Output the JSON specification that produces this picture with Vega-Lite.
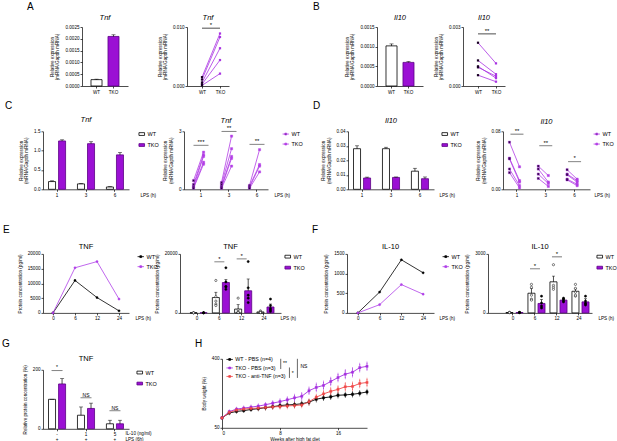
{
"$schema": "https://vega.github.io/schema/vega-lite/v6.json",
"padding": {"left": 0, "top": 2, "right": 0, "bottom": 0},
"background": "white",
"config": {
 "font": "Liberation Sans",
 "view": {"stroke": null},
 "axis": {"domainColor":"#000","domainWidth":0.7,"tickColor":"#000","tickWidth":0.7,"tickSize":2,"labelFontSize":4.6,"labelColor":"#000","labelPadding":1,"titleFontSize":4.6,"titleFontWeight":"normal","titleColor":"#000","titleLineHeight":5.5,"grid":false,"labelFont":"Liberation Sans","titleFont":"Liberation Sans","labelOverlap":false},
 "axisX": {"labelAngle": 0},
 "axisY": {"titlePadding": 5},
 "title": {"fontSize": 7.5, "fontWeight": "normal", "font": "Liberation Sans", "baseline": "alphabetic", "offset": 5, "frame": "group", "anchor": "middle", "color": "#000"},
 "legend": {"labelFontSize": 5.5, "labelFont": "Liberation Sans", "padding": 0, "rowPadding": 3, "symbolStrokeWidth": 0.8, "labelOffset": 3, "labelColor": "#000"}
},
"datasets": {
 "a1": [{"g":"WT","m":0.00027,"hi":0.00029},{"g":"TKO","m":0.0021,"hi":0.00217}],
 "a2": [{"id":1,"g":"WT","v":0.0015},{"id":1,"g":"TKO","v":0.0089},{"id":2,"g":"WT","v":0.0011},{"id":2,"g":"TKO","v":0.0083},{"id":3,"g":"WT","v":0.0006},{"id":3,"g":"TKO","v":0.0064},{"id":4,"g":"WT","v":0.0003},{"id":4,"g":"TKO","v":0.0044},{"id":5,"g":"WT","v":0.0001},{"id":5,"g":"TKO","v":0.0021}],
 "a2s": [{"a":"WT","b":"TKO","y":0.0098,"s":"*"}],
 "b1": [{"g":"WT","m":0.00102,"hi":0.00107},{"g":"TKO","m":0.0006,"hi":0.00062}],
 "b2": [{"id":1,"g":"WT","v":0.0022},{"id":1,"g":"TKO","v":0.00115},{"id":2,"g":"WT","v":0.0013},{"id":2,"g":"TKO","v":0.0006},{"id":3,"g":"WT","v":0.001},{"id":3,"g":"TKO","v":0.0004},{"id":4,"g":"WT","v":0.00095},{"id":4,"g":"TKO","v":0.0005},{"id":5,"g":"WT","v":0.00055},{"id":5,"g":"TKO","v":0.00022}],
 "b2s": [{"a":"WT","b":"TKO","y":0.00265,"s":"**"}],
 "c1": [{"t":"1","g":"WT","m":0.2,"hi":0.22},{"t":"1","g":"TKO","m":1.25,"hi":1.28},{"t":"3","g":"WT","m":0.14,"hi":0.15},{"t":"3","g":"TKO","m":1.18,"hi":1.23},{"t":"6","g":"WT","m":0.06,"hi":0.07},{"t":"6","g":"TKO","m":0.89,"hi":0.95}],
 "c2": [{"t":"1","g":"WT","v":0.45,"id":"a1"},{"t":"1","g":"TKO","v":1.92,"id":"a1"},{"t":"1","g":"WT","v":0.25,"id":"a2"},{"t":"1","g":"TKO","v":1.78,"id":"a2"},{"t":"1","g":"WT","v":0.15,"id":"a3"},{"t":"1","g":"TKO","v":1.7,"id":"a3"},{"t":"1","g":"WT","v":0.1,"id":"a4"},{"t":"1","g":"TKO","v":1.4,"id":"a4"},{"t":"1","g":"WT","v":0.05,"id":"a5"},{"t":"1","g":"TKO","v":1.3,"id":"a5"},
  {"t":"3","g":"WT","v":0.35,"id":"b1"},{"t":"3","g":"TKO","v":2.75,"id":"b1"},{"t":"3","g":"WT","v":0.25,"id":"b2"},{"t":"3","g":"TKO","v":2.1,"id":"b2"},{"t":"3","g":"WT","v":0.15,"id":"b3"},{"t":"3","g":"TKO","v":1.7,"id":"b3"},{"t":"3","g":"WT","v":0.1,"id":"b4"},{"t":"3","g":"TKO","v":1.6,"id":"b4"},{"t":"3","g":"WT","v":0.05,"id":"b5"},{"t":"3","g":"TKO","v":1.2,"id":"b5"},
  {"t":"6","g":"WT","v":0.2,"id":"c1"},{"t":"6","g":"TKO","v":2.05,"id":"c1"},{"t":"6","g":"WT","v":0.15,"id":"c2"},{"t":"6","g":"TKO","v":1.28,"id":"c2"},{"t":"6","g":"WT","v":0.1,"id":"c3"},{"t":"6","g":"TKO","v":1.2,"id":"c3"},{"t":"6","g":"WT","v":0.05,"id":"c4"},{"t":"6","g":"TKO","v":0.9,"id":"c4"}],
 "c2s": [{"t":"1","y":2.28,"s":"***"},{"t":"3","y":3.0,"s":"**"},{"t":"6","y":2.33,"s":"**"}],
 "d1": [{"t":"1","g":"WT","m":0.028,"hi":0.030},{"t":"1","g":"TKO","m":0.0078,"hi":0.0084},{"t":"3","g":"WT","m":0.028,"hi":0.029},{"t":"3","g":"TKO","m":0.0082,"hi":0.0085},{"t":"6","g":"WT","m":0.0125,"hi":0.0145},{"t":"6","g":"TKO","m":0.0073,"hi":0.0085}],
 "d2": [{"t":"1","g":"WT","v":0.065,"id":"a1"},{"t":"1","g":"TKO","v":0.031,"id":"a1"},{"t":"1","g":"WT","v":0.043,"id":"a2"},{"t":"1","g":"TKO","v":0.012,"id":"a2"},{"t":"1","g":"WT","v":0.042,"id":"a3"},{"t":"1","g":"TKO","v":0.01,"id":"a3"},{"t":"1","g":"WT","v":0.028,"id":"a4"},{"t":"1","g":"TKO","v":0.005,"id":"a4"},{"t":"1","g":"WT","v":0.023,"id":"a5"},{"t":"1","g":"TKO","v":0.002,"id":"a5"},
  {"t":"3","g":"WT","v":0.032,"id":"b1"},{"t":"3","g":"TKO","v":0.019,"id":"b1"},{"t":"3","g":"WT","v":0.028,"id":"b2"},{"t":"3","g":"TKO","v":0.01,"id":"b2"},{"t":"3","g":"WT","v":0.021,"id":"b3"},{"t":"3","g":"TKO","v":0.008,"id":"b3"},{"t":"3","g":"WT","v":0.015,"id":"b4"},{"t":"3","g":"TKO","v":0.004,"id":"b4"},
  {"t":"6","g":"WT","v":0.027,"id":"c1"},{"t":"6","g":"TKO","v":0.014,"id":"c1"},{"t":"6","g":"WT","v":0.021,"id":"c2"},{"t":"6","g":"TKO","v":0.012,"id":"c2"},{"t":"6","g":"WT","v":0.02,"id":"c3"},{"t":"6","g":"TKO","v":0.01,"id":"c3"},{"t":"6","g":"WT","v":0.014,"id":"c4"},{"t":"6","g":"TKO","v":0.007,"id":"c4"},{"t":"6","g":"WT","v":0.013,"id":"c5"},{"t":"6","g":"TKO","v":0.005,"id":"c5"}],
 "d2s": [{"t":"1","y":0.076,"s":"**"},{"t":"3","y":0.06,"s":"**"},{"t":"6","y":0.038,"s":"*"}],
 "e1": [{"t":0,"g":"WT","v":0},{"t":6,"g":"WT","v":11000},{"t":12,"g":"WT","v":5200},{"t":24,"g":"WT","v":700},{"t":0,"g":"TKO","v":0},{"t":6,"g":"TKO","v":15300},{"t":12,"g":"TKO","v":17400},{"t":24,"g":"TKO","v":4700}],
 "e2s": [{"t":0,"g":"WT","m":50,"hi":80},{"t":0,"g":"TKO","m":50,"hi":80},{"t":6,"g":"WT","m":5200,"hi":7000},{"t":6,"g":"TKO","m":10300,"hi":11300},{"t":12,"g":"WT","m":1300,"hi":2800},{"t":12,"g":"TKO","m":7500,"hi":11500},{"t":24,"g":"WT","m":330,"hi":550},{"t":24,"g":"TKO","m":2000,"hi":3000}],
 "e2d": [{"t":0,"g":"WT","v":60},{"t":0,"g":"WT","v":40},{"t":0,"g":"WT","v":30},{"t":0,"g":"TKO","v":60},{"t":0,"g":"TKO","v":40},{"t":0,"g":"TKO","v":30},
  {"t":6,"g":"WT","v":11000},{"t":6,"g":"WT","v":5500},{"t":6,"g":"WT","v":4000},{"t":6,"g":"WT","v":3000},{"t":6,"g":"WT","v":2500},
  {"t":6,"g":"TKO","v":15300},{"t":6,"g":"TKO","v":10500},{"t":6,"g":"TKO","v":9000},{"t":6,"g":"TKO","v":8000},{"t":6,"g":"TKO","v":8800},
  {"t":12,"g":"WT","v":5000},{"t":12,"g":"WT","v":1000},{"t":12,"g":"WT","v":300},{"t":12,"g":"WT","v":200},{"t":12,"g":"WT","v":100},
  {"t":12,"g":"TKO","v":17400},{"t":12,"g":"TKO","v":8500},{"t":12,"g":"TKO","v":6000},{"t":12,"g":"TKO","v":5000},{"t":12,"g":"TKO","v":3500},
  {"t":24,"g":"WT","v":700},{"t":24,"g":"WT","v":300},{"t":24,"g":"WT","v":200},{"t":24,"g":"WT","v":100},
  {"t":24,"g":"TKO","v":4700},{"t":24,"g":"TKO","v":2500},{"t":24,"g":"TKO","v":1500},{"t":24,"g":"TKO","v":1000},{"t":24,"g":"TKO","v":500}],
 "e2x": [{"t":6,"y":17300,"s":"*"},{"t":12,"y":18300,"s":"*"}],
 "f1": [{"t":0,"g":"WT","v":0},{"t":6,"g":"WT","v":530},{"t":12,"g":"WT","v":1350},{"t":24,"g":"WT","v":1020},{"t":0,"g":"TKO","v":0},{"t":6,"g":"TKO","v":210},{"t":12,"g":"TKO","v":720},{"t":24,"g":"TKO","v":475}],
 "f2s": [{"t":0,"g":"WT","m":20,"hi":40},{"t":0,"g":"TKO","m":20,"hi":40},{"t":6,"g":"WT","m":1000,"hi":1250},{"t":6,"g":"TKO","m":480,"hi":680},{"t":12,"g":"WT","m":1580,"hi":1870},{"t":12,"g":"TKO","m":650,"hi":700},{"t":24,"g":"WT","m":1100,"hi":1220},{"t":24,"g":"TKO","m":560,"hi":720}],
 "f2d": [{"t":0,"g":"WT","v":20},{"t":0,"g":"WT","v":25},{"t":0,"g":"WT","v":15},{"t":0,"g":"TKO","v":20},{"t":0,"g":"TKO","v":25},{"t":0,"g":"TKO","v":15},
  {"t":6,"g":"WT","v":1450},{"t":6,"g":"WT","v":1300},{"t":6,"g":"WT","v":900},{"t":6,"g":"WT","v":700},{"t":6,"g":"WT","v":650},
  {"t":6,"g":"TKO","v":850},{"t":6,"g":"TKO","v":500},{"t":6,"g":"TKO","v":350},{"t":6,"g":"TKO","v":250},
  {"t":12,"g":"WT","v":2450},{"t":12,"g":"WT","v":1400},{"t":12,"g":"WT","v":1300},{"t":12,"g":"WT","v":1200},
  {"t":12,"g":"TKO","v":750},{"t":12,"g":"TKO","v":700},{"t":12,"g":"TKO","v":620},{"t":12,"g":"TKO","v":560},
  {"t":24,"g":"WT","v":1450},{"t":24,"g":"WT","v":1250},{"t":24,"g":"WT","v":1050},{"t":24,"g":"WT","v":850},{"t":24,"g":"WT","v":900},
  {"t":24,"g":"TKO","v":850},{"t":24,"g":"TKO","v":600},{"t":24,"g":"TKO","v":450},{"t":24,"g":"TKO","v":400},{"t":24,"g":"TKO","v":500}],
 "f2x": [{"t":6,"y":2240,"s":"*"},{"t":12,"y":2850,"s":"*"}],
 "g": [{"t":"-","g":"WT","m":100,"hi":100},{"t":"-","g":"TKO","m":152,"hi":170},{"t":"1","g":"WT","m":46,"hi":74},{"t":"1","g":"TKO","m":69,"hi":87},{"t":"5","g":"WT","m":17,"hi":29},{"t":"5","g":"TKO","m":17,"hi":29}],
 "gx": [{"t":"-","y":197,"s":"*"},{"t":"1","y":105,"s":"NS"},{"t":"5","y":61,"s":"NS"}],
 "h": [
  {"w":0,"k":"WT - PBS (n=4)","m":100,"lo":98,"hi":102},{"w":1,"k":"WT - PBS (n=4)","m":125,"lo":120,"hi":130},{"w":2,"k":"WT - PBS (n=4)","m":133,"lo":127,"hi":139},{"w":3,"k":"WT - PBS (n=4)","m":137,"lo":131,"hi":143},{"w":4,"k":"WT - PBS (n=4)","m":143,"lo":136,"hi":150},{"w":5,"k":"WT - PBS (n=4)","m":147,"lo":140,"hi":154},{"w":6,"k":"WT - PBS (n=4)","m":152,"lo":144,"hi":160},{"w":7,"k":"WT - PBS (n=4)","m":157,"lo":149,"hi":165},{"w":8,"k":"WT - PBS (n=4)","m":163,"lo":154,"hi":172},{"w":9,"k":"WT - PBS (n=4)","m":166,"lo":157,"hi":175},{"w":10,"k":"WT - PBS (n=4)","m":168,"lo":158,"hi":178},{"w":11,"k":"WT - PBS (n=4)","m":172,"lo":162,"hi":182},{"w":12,"k":"WT - PBS (n=4)","m":180,"lo":170,"hi":190},{"w":13,"k":"WT - PBS (n=4)","m":195,"lo":185,"hi":205},{"w":14,"k":"WT - PBS (n=4)","m":202,"lo":192,"hi":212},{"w":15,"k":"WT - PBS (n=4)","m":207,"lo":197,"hi":217},{"w":16,"k":"WT - PBS (n=4)","m":215,"lo":205,"hi":225},{"w":17,"k":"WT - PBS (n=4)","m":217,"lo":207,"hi":227},{"w":18,"k":"WT - PBS (n=4)","m":220,"lo":210,"hi":230},{"w":19,"k":"WT - PBS (n=4)","m":225,"lo":215,"hi":235},{"w":20,"k":"WT - PBS (n=4)","m":232,"lo":222,"hi":242},
  {"w":0,"k":"TKO - PBS (n=3)","m":100,"lo":98,"hi":102},{"w":1,"k":"TKO - PBS (n=3)","m":132,"lo":126,"hi":138},{"w":2,"k":"TKO - PBS (n=3)","m":145,"lo":139,"hi":151},{"w":3,"k":"TKO - PBS (n=3)","m":150,"lo":143,"hi":157},{"w":4,"k":"TKO - PBS (n=3)","m":155,"lo":148,"hi":162},{"w":5,"k":"TKO - PBS (n=3)","m":160,"lo":152,"hi":168},{"w":6,"k":"TKO - PBS (n=3)","m":167,"lo":159,"hi":175},{"w":7,"k":"TKO - PBS (n=3)","m":175,"lo":166,"hi":184},{"w":8,"k":"TKO - PBS (n=3)","m":183,"lo":173,"hi":193},{"w":9,"k":"TKO - PBS (n=3)","m":192,"lo":180,"hi":204},{"w":10,"k":"TKO - PBS (n=3)","m":202,"lo":188,"hi":216},{"w":11,"k":"TKO - PBS (n=3)","m":210,"lo":195,"hi":225},{"w":12,"k":"TKO - PBS (n=3)","m":238,"lo":223,"hi":253},{"w":13,"k":"TKO - PBS (n=3)","m":255,"lo":237,"hi":273},{"w":14,"k":"TKO - PBS (n=3)","m":265,"lo":247,"hi":283},{"w":15,"k":"TKO - PBS (n=3)","m":285,"lo":267,"hi":303},{"w":16,"k":"TKO - PBS (n=3)","m":305,"lo":287,"hi":323},{"w":17,"k":"TKO - PBS (n=3)","m":322,"lo":302,"hi":342},{"w":18,"k":"TKO - PBS (n=3)","m":332,"lo":312,"hi":352},{"w":19,"k":"TKO - PBS (n=3)","m":355,"lo":337,"hi":373},{"w":20,"k":"TKO - PBS (n=3)","m":362,"lo":344,"hi":380},
  {"w":0,"k":"TKO - anti-TNF (n=3)","m":100,"lo":98,"hi":102},{"w":1,"k":"TKO - anti-TNF (n=3)","m":128,"lo":123,"hi":133},{"w":2,"k":"TKO - anti-TNF (n=3)","m":140,"lo":134,"hi":146},{"w":3,"k":"TKO - anti-TNF (n=3)","m":145,"lo":139,"hi":151},{"w":4,"k":"TKO - anti-TNF (n=3)","m":148,"lo":141,"hi":155},{"w":5,"k":"TKO - anti-TNF (n=3)","m":150,"lo":143,"hi":157},{"w":6,"k":"TKO - anti-TNF (n=3)","m":153,"lo":145,"hi":161},{"w":7,"k":"TKO - anti-TNF (n=3)","m":156,"lo":148,"hi":164},{"w":8,"k":"TKO - anti-TNF (n=3)","m":158,"lo":149,"hi":167},{"w":9,"k":"TKO - anti-TNF (n=3)","m":161,"lo":151,"hi":171},{"w":10,"k":"TKO - anti-TNF (n=3)","m":163,"lo":153,"hi":173},{"w":11,"k":"TKO - anti-TNF (n=3)","m":166,"lo":156,"hi":176},{"w":12,"k":"TKO - anti-TNF (n=3)","m":182,"lo":170,"hi":194},{"w":13,"k":"TKO - anti-TNF (n=3)","m":205,"lo":193,"hi":217},{"w":14,"k":"TKO - anti-TNF (n=3)","m":222,"lo":208,"hi":236},{"w":15,"k":"TKO - anti-TNF (n=3)","m":235,"lo":220,"hi":250},{"w":16,"k":"TKO - anti-TNF (n=3)","m":245,"lo":230,"hi":260},{"w":17,"k":"TKO - anti-TNF (n=3)","m":258,"lo":240,"hi":276},{"w":18,"k":"TKO - anti-TNF (n=3)","m":260,"lo":242,"hi":278},{"w":19,"k":"TKO - anti-TNF (n=3)","m":275,"lo":257,"hi":293},{"w":20,"k":"TKO - anti-TNF (n=3)","m":280,"lo":262,"hi":298}],
 "hr": [{"x":8.1,"y":400,"y2":348},{"x":9.3,"y":356,"y2":303},{"x":10.4,"y":400,"y2":303}],
 "ht": [{"x":8.7,"y":380,"s":"**"},{"x":9.75,"y":330,"s":"*"},{"x":11.3,"y":365,"s":"NS"}],
 "one": [{"u": 1}]
},
"resolve": {"scale": {"fill": "independent", "stroke": "independent", "color": "independent"}},
"spacing": 27.9,
"vconcat": [
 {"spacing": 6.3, "resolve": {"scale": {"fill": "independent", "stroke": "independent", "color": "independent"}}, "vconcat": [
  {"bounds": "flush", "spacing": 0, "resolve": {"scale": {"fill": "independent", "stroke": "independent", "color": "independent"}}, "hconcat": [
   {"width": 82, "height": 10, "data": {"name": "one"}, "mark": {"type": "rect", "opacity": 0}, "title": {"text": "A", "fontSize": 10, "anchor": "start", "frame": "group", "baseline": "alphabetic", "dx": 27, "offset": 6.6}},
   {"width": 46, "height": 59, "title": {"text": "Tnf", "fontStyle": "italic", "offset": 3}, "data": {"name": "a1"},
    "encoding": {
     "x": {"field": "g", "type": "nominal", "scale": {"domain": ["WT","TKO"], "paddingInner": 0.35, "paddingOuter": 0.53}, "axis": {"title": null}},
     "y": {"field": "m", "type": "quantitative", "scale": {"domain": [0, 0.0025]}, "axis": {"values": [0,0.0005,0.001,0.0015,0.002,0.0025], "format": ".4f", "title": ["Relative expression","(mRNA/Gapdh mRNA)"]}}},
    "layer": [
     {"mark": {"type": "bar", "strokeWidth": 0.8}, "encoding": {
       "fill": {"field": "g", "type": "nominal", "scale": {"domain": ["WT","TKO"], "range": ["#ffffff","#9b10d4"]}, "legend": null},
       "stroke": {"field": "g", "type": "nominal", "scale": {"domain": ["WT","TKO"], "range": ["#000000","#5c0085"]}, "legend": null}}},
     {"mark": {"type": "rule", "color": "#000", "strokeWidth": 0.7}, "encoding": {"y2": {"field": "hi"}}},
     {"mark": {"type": "tick", "color": "#000", "thickness": 0.7, "size": 4}, "encoding": {"y": {"field": "hi", "type": "quantitative"}}}
    ]},
   {"width": 59, "height": 10, "data": {"name": "one"}, "mark": {"type": "rect", "opacity": 0}},
   {"width": 42, "height": 59, "title": {"text": "Tnf", "fontStyle": "italic", "offset": 0},
    "layer": [
     {"data": {"name": "a2"}, "mark": {"type": "line", "color": "#a934e2", "strokeWidth": 0.8}, "encoding": {
       "x": {"field": "g", "type": "nominal", "scale": {"type": "point", "domain": ["WT","TKO"], "padding": 0.667, "align": 0.625}, "axis": {"title": null}},
       "y": {"field": "v", "type": "quantitative", "scale": {"domain": [0, 0.01]}, "axis": {"values": [0,0.002,0.004,0.006,0.008,0.01], "format": ".3f", "title": ["Relative expression","(mRNA/Gapdh mRNA)"]}},
       "detail": {"field": "id", "type": "nominal"}}},
     {"data": {"name": "a2"}, "mark": {"type": "point", "filled": true, "shape": "square", "size": 5, "opacity": 1}, "encoding": {
       "x": {"field": "g", "type": "nominal"}, "y": {"field": "v", "type": "quantitative"},
       "color": {"field": "g", "type": "nominal", "scale": {"domain": ["WT","TKO"], "range": ["#1a0026","#a934e2"]}, "legend": null}}},
     {"data": {"name": "a2s"}, "mark": {"type": "rule", "color": "#000", "strokeWidth": 0.7}, "encoding": {"x": {"field": "a", "type": "nominal"}, "x2": {"field": "b"}, "y": {"field": "y", "type": "quantitative"}}},
     {"data": {"name": "a2s"}, "mark": {"type": "text", "dx": 9, "dy": -0.3, "baseline": "bottom", "fontSize": 6}, "encoding": {"x": {"field": "a", "type": "nominal"}, "y": {"field": "y", "type": "quantitative"}, "text": {"field": "s"}}}
    ]},
   {"width": 148, "height": 10, "data": {"name": "one"}, "mark": {"type": "rect", "opacity": 0}, "title": {"text": "B", "fontSize": 10, "anchor": "start", "frame": "group", "baseline": "alphabetic", "dx": 84, "offset": 6.6}},
   {"width": 46, "height": 59, "title": {"text": "Il10", "fontStyle": "italic", "offset": 3}, "data": {"name": "b1"},
    "encoding": {
     "x": {"field": "g", "type": "nominal", "scale": {"domain": ["WT","TKO"], "paddingInner": 0.35, "paddingOuter": 0.53}, "axis": {"title": null}},
     "y": {"field": "m", "type": "quantitative", "scale": {"domain": [0, 0.0015]}, "axis": {"values": [0,0.0005,0.001,0.0015], "format": ".4f", "title": ["Relative expression","(mRNA/Gapdh mRNA)"]}}},
    "layer": [
     {"mark": {"type": "bar", "strokeWidth": 0.8}, "encoding": {
       "fill": {"field": "g", "type": "nominal", "scale": {"domain": ["WT","TKO"], "range": ["#ffffff","#9b10d4"]}, "legend": null},
       "stroke": {"field": "g", "type": "nominal", "scale": {"domain": ["WT","TKO"], "range": ["#000000","#5c0085"]}, "legend": null}}},
     {"mark": {"type": "rule", "color": "#000", "strokeWidth": 0.7}, "encoding": {"y2": {"field": "hi"}}},
     {"mark": {"type": "tick", "color": "#000", "thickness": 0.7, "size": 4}, "encoding": {"y": {"field": "hi", "type": "quantitative"}}}
    ]},
   {"width": 40, "height": 10, "data": {"name": "one"}, "mark": {"type": "rect", "opacity": 0}},
   {"width": 42, "height": 59, "title": {"text": "Il10", "fontStyle": "italic", "offset": 3},
    "layer": [
     {"data": {"name": "b2"}, "mark": {"type": "line", "color": "#a934e2", "strokeWidth": 0.8}, "encoding": {
       "x": {"field": "g", "type": "nominal", "scale": {"type": "point", "domain": ["WT","TKO"], "padding": 0.667, "align": 0.625}, "axis": {"title": null}},
       "y": {"field": "v", "type": "quantitative", "scale": {"domain": [0, 0.003]}, "axis": {"values": [0,0.001,0.002,0.003], "format": ".3f", "title": ["Relative expression","(mRNA/Gapdh mRNA)"]}},
       "detail": {"field": "id", "type": "nominal"}}},
     {"data": {"name": "b2"}, "mark": {"type": "point", "filled": true, "shape": "square", "size": 5, "opacity": 1}, "encoding": {
       "x": {"field": "g", "type": "nominal"}, "y": {"field": "v", "type": "quantitative"},
       "color": {"field": "g", "type": "nominal", "scale": {"domain": ["WT","TKO"], "range": ["#1a0026","#a934e2"]}, "legend": null}}},
     {"data": {"name": "b2s"}, "mark": {"type": "rule", "color": "#000", "strokeWidth": 0.7}, "encoding": {"x": {"field": "a", "type": "nominal"}, "x2": {"field": "b"}, "y": {"field": "y", "type": "quantitative"}}},
     {"data": {"name": "b2s"}, "mark": {"type": "text", "dx": 9, "dy": -0.3, "baseline": "bottom", "fontSize": 6}, "encoding": {"x": {"field": "a", "type": "nominal"}, "y": {"field": "y", "type": "quantitative"}, "text": {"field": "s"}}}
    ]}
  ]},
  {"bounds": "flush", "spacing": 0, "resolve": {"scale": {"fill": "independent", "stroke": "independent", "color": "independent"}}, "hconcat": [
   {"width": 43, "height": 10, "data": {"name": "one"}, "mark": {"type": "rect", "opacity": 0}, "title": {"text": "C", "fontSize": 10, "anchor": "start", "frame": "group", "baseline": "alphabetic", "dx": 5, "offset": 12.6}},
   {"width": 86, "height": 58, "title": {"text": "Tnf", "fontStyle": "italic", "offset": 5.2}, "data": {"name": "c1"},
    "encoding": {
     "x": {"field": "t", "type": "nominal", "scale": {"domain": ["1","3","6"], "paddingInner": 0.41, "paddingOuter": 0.19}, "axis": {"title": "LPS (h)", "titleX": 97, "titleY": 3, "titleAlign": "left", "titleBaseline": "top"}},
     "xOffset": {"field": "g", "type": "nominal", "scale": {"domain": ["WT","TKO"], "paddingInner": 0.3}},
     "y": {"field": "m", "type": "quantitative", "scale": {"domain": [0, 1.5]}, "axis": {"values": [0,0.5,1,1.5], "format": ".1f", "title": ["Relative expression","(mRNA/Gapdh mRNA)"]}}},
    "layer": [
     {"mark": {"type": "bar", "strokeWidth": 0.8}, "encoding": {
       "fill": {"field": "g", "type": "nominal", "scale": {"domain": ["WT","TKO"], "range": ["#ffffff","#9b10d4"]}, "legend": {"title": null, "symbolType": "M-1.4,-0.7H1.4V0.7H-1.4Z", "symbolSize": 16, "offset": 10}},
       "stroke": {"field": "g", "type": "nominal", "scale": {"domain": ["WT","TKO"], "range": ["#000000","#5c0085"]}, "legend": {"title": null, "symbolType": "M-1.4,-0.7H1.4V0.7H-1.4Z", "symbolSize": 16, "offset": 10}}}},
     {"mark": {"type": "rule", "color": "#000", "strokeWidth": 0.7}, "encoding": {"y2": {"field": "hi"}}},
     {"mark": {"type": "tick", "color": "#000", "thickness": 0.7, "size": 4}, "encoding": {"y": {"field": "hi", "type": "quantitative"}}}
    ]},
   {"width": 55, "height": 10, "data": {"name": "one"}, "mark": {"type": "rect", "opacity": 0}},
   {"width": 84, "height": 58, "title": {"text": "Tnf", "fontStyle": "italic", "offset": 1},
    "layer": [
     {"data": {"name": "c2"}, "mark": {"type": "line", "color": "#b23ee6", "strokeWidth": 0.8}, "encoding": {
       "x": {"field": "t", "type": "nominal", "scale": {"domain": ["1","3","6"], "paddingInner": 0.214, "paddingOuter": 0.107, "align": 1}, "axis": {"title": "LPS (h)", "titleX": 90, "titleY": 3, "titleAlign": "left", "titleBaseline": "top"}},
       "xOffset": {"field": "g", "type": "nominal", "scale": {"domain": ["WT","TKO"], "paddingInner": 0, "paddingOuter": 0}},
       "y": {"field": "v", "type": "quantitative", "scale": {"domain": [0, 3]}, "axis": {"values": [0,1,2,3], "format": "d", "title": ["Relative expression","(mRNA/Gapdh mRNA)"]}},
       "detail": {"field": "id", "type": "nominal"}}},
     {"data": {"name": "c2"}, "mark": {"type": "point", "filled": true, "shape": "square", "size": 5, "strokeWidth": 0.4, "opacity": 1}, "encoding": {
       "x": {"field": "t", "type": "nominal"}, "xOffset": {"field": "g", "type": "nominal"}, "y": {"field": "v", "type": "quantitative"},
       "fill": {"field": "g", "type": "nominal", "scale": {"domain": ["WT","TKO"], "range": ["#2a0040","#b23ee6"]}, "legend": {"title": null, "symbolType": "M-1.6,0H1.6M-0.45,-0.45H0.45V0.45H-0.45Z", "symbolSize": 16, "offset": 15}},
       "stroke": {"field": "g", "type": "nominal", "scale": {"domain": ["WT","TKO"], "range": ["#b23ee6","#b23ee6"]}, "legend": {"title": null, "symbolType": "M-1.6,0H1.6M-0.45,-0.45H0.45V0.45H-0.45Z", "symbolSize": 16, "offset": 15}}}},
     {"data": {"name": "c2s"}, "mark": {"type": "tick", "color": "#000", "thickness": 0.7, "size": 15}, "encoding": {"x": {"field": "t", "type": "nominal"}, "y": {"field": "y", "type": "quantitative"}}},
     {"data": {"name": "c2s"}, "mark": {"type": "text", "baseline": "bottom", "dy": -0.3, "fontSize": 6}, "encoding": {"x": {"field": "t", "type": "nominal"}, "y": {"field": "y", "type": "quantitative"}, "text": {"field": "s"}}}
    ]},
   {"width": 80, "height": 10, "data": {"name": "one"}, "mark": {"type": "rect", "opacity": 0}, "title": {"text": "D", "fontSize": 10, "anchor": "start", "frame": "group", "baseline": "alphabetic", "dx": 45, "offset": 12.6}},
   {"width": 86, "height": 58, "title": {"text": "Il10", "fontStyle": "italic", "offset": 4.2}, "data": {"name": "d1"},
    "encoding": {
     "x": {"field": "t", "type": "nominal", "scale": {"domain": ["1","3","6"], "paddingInner": 0.41, "paddingOuter": 0.19}, "axis": {"title": "LPS (h)", "titleX": 91, "titleY": 3, "titleAlign": "left", "titleBaseline": "top"}},
     "xOffset": {"field": "g", "type": "nominal", "scale": {"domain": ["WT","TKO"], "paddingInner": 0.3}},
     "y": {"field": "m", "type": "quantitative", "scale": {"domain": [0, 0.04]}, "axis": {"values": [0,0.01,0.02,0.03,0.04], "format": ".2f", "title": ["Relative expression","(mRNA/Gapdh mRNA)"]}}},
    "layer": [
     {"mark": {"type": "bar", "strokeWidth": 0.8}, "encoding": {
       "fill": {"field": "g", "type": "nominal", "scale": {"domain": ["WT","TKO"], "range": ["#ffffff","#9b10d4"]}, "legend": {"title": null, "symbolType": "M-1.4,-0.7H1.4V0.7H-1.4Z", "symbolSize": 16, "offset": 8}},
       "stroke": {"field": "g", "type": "nominal", "scale": {"domain": ["WT","TKO"], "range": ["#000000","#5c0085"]}, "legend": {"title": null, "symbolType": "M-1.4,-0.7H1.4V0.7H-1.4Z", "symbolSize": 16, "offset": 8}}}},
     {"mark": {"type": "rule", "color": "#000", "strokeWidth": 0.7}, "encoding": {"y2": {"field": "hi"}}},
     {"mark": {"type": "tick", "color": "#000", "thickness": 0.7, "size": 4}, "encoding": {"y": {"field": "hi", "type": "quantitative"}}}
    ]},
   {"width": 69, "height": 10, "data": {"name": "one"}, "mark": {"type": "rect", "opacity": 0}},
   {"width": 87, "height": 58, "title": {"text": "Il10", "fontStyle": "italic", "offset": 2.9},
    "layer": [
     {"data": {"name": "d2"}, "mark": {"type": "line", "color": "#b23ee6", "strokeWidth": 0.8}, "encoding": {
       "x": {"field": "t", "type": "nominal", "scale": {"domain": ["1","3","6"], "paddingInner": 0.236, "paddingOuter": 0.128, "align": 0.4}, "axis": {"title": "LPS (h)", "titleX": 91, "titleY": 3, "titleAlign": "left", "titleBaseline": "top"}},
       "xOffset": {"field": "g", "type": "nominal", "scale": {"domain": ["WT","TKO"], "paddingInner": 0, "paddingOuter": 0}},
       "y": {"field": "v", "type": "quantitative", "scale": {"domain": [0, 0.08]}, "axis": {"values": [0,0.02,0.04,0.06,0.08], "format": ".2f", "title": ["Relative expression","(mRNA/Gapdh mRNA)"]}},
       "detail": {"field": "id", "type": "nominal"}}},
     {"data": {"name": "d2"}, "mark": {"type": "point", "filled": true, "shape": "square", "size": 5, "strokeWidth": 0.4, "opacity": 1}, "encoding": {
       "x": {"field": "t", "type": "nominal"}, "xOffset": {"field": "g", "type": "nominal"}, "y": {"field": "v", "type": "quantitative"},
       "fill": {"field": "g", "type": "nominal", "scale": {"domain": ["WT","TKO"], "range": ["#2a0040","#b23ee6"]}, "legend": {"title": null, "symbolType": "M-1.6,0H1.6M-0.45,-0.45H0.45V0.45H-0.45Z", "symbolSize": 16, "offset": 4}},
       "stroke": {"field": "g", "type": "nominal", "scale": {"domain": ["WT","TKO"], "range": ["#b23ee6","#b23ee6"]}, "legend": {"title": null, "symbolType": "M-1.6,0H1.6M-0.45,-0.45H0.45V0.45H-0.45Z", "symbolSize": 16, "offset": 4}}}},
     {"data": {"name": "d2s"}, "mark": {"type": "tick", "color": "#000", "thickness": 0.7, "size": 13}, "encoding": {"x": {"field": "t", "type": "nominal"}, "y": {"field": "y", "type": "quantitative"}}},
     {"data": {"name": "d2s"}, "mark": {"type": "text", "baseline": "bottom", "dy": -0.3, "fontSize": 6}, "encoding": {"x": {"field": "t", "type": "nominal"}, "y": {"field": "y", "type": "quantitative"}, "text": {"field": "s"}}}
    ]}
  ]}
 ]},
 {"spacing": 17.9, "resolve": {"scale": {"fill": "independent", "stroke": "independent", "color": "independent"}}, "vconcat": [
  {"bounds": "flush", "spacing": 0, "resolve": {"scale": {"fill": "independent", "stroke": "independent", "color": "independent"}}, "hconcat": [
   {"width": 43, "height": 10, "data": {"name": "one"}, "mark": {"type": "rect", "opacity": 0}, "title": {"text": "E", "fontSize": 10, "anchor": "start", "frame": "group", "baseline": "alphabetic", "dx": 3, "offset": 10.6}},
   {"width": 86, "height": 59, "title": {"text": "TNF", "offset": 0.8}, "data": {"name": "e1"},
    "encoding": {
     "x": {"field": "t", "type": "ordinal", "scale": {"type": "point", "domain": [0,6,12,24], "padding": 0.4545}, "axis": {"title": "LPS (h)", "titleX": 92, "titleY": 3, "titleAlign": "left", "titleBaseline": "top"}},
     "y": {"field": "v", "type": "quantitative", "scale": {"domain": [0, 20000]}, "axis": {"values": [0,5000,10000,15000,20000], "format": "d", "title": "Protein concentration (pg/ml)"}}},
    "layer": [
     {"mark": {"type": "line", "strokeWidth": 0.8}, "encoding": {"stroke": {"field": "g", "type": "nominal", "scale": {"domain": ["WT","TKO"], "range": ["#000000","#b040e8"]}, "legend": {"title": null, "symbolType": "M-1.6,0H1.6M-0.45,-0.45H0.45V0.45H-0.45Z", "symbolSize": 16, "offset": 9}}}},
     {"mark": {"type": "point", "filled": true, "shape": "circle", "size": 5, "strokeWidth": 0.4, "opacity": 1}, "encoding": {
       "fill": {"field": "g", "type": "nominal", "scale": {"domain": ["WT","TKO"], "range": ["#000000","#b040e8"]}, "legend": {"title": null, "symbolType": "M-1.6,0H1.6M-0.45,-0.45H0.45V0.45H-0.45Z", "symbolSize": 16, "offset": 9}},
       "stroke": {"field": "g", "type": "nominal", "scale": {"domain": ["WT","TKO"], "range": ["#000000","#b040e8"]}, "legend": {"title": null, "symbolType": "M-1.6,0H1.6M-0.45,-0.45H0.45V0.45H-0.45Z", "symbolSize": 16, "offset": 9}}}}
    ]},
   {"width": 51, "height": 10, "data": {"name": "one"}, "mark": {"type": "rect", "opacity": 0}},
   {"width": 101, "height": 59, "title": {"text": "TNF", "offset": 0.8},
    "layer": [
     {"data": {"name": "e2s"}, "mark": {"type": "bar", "strokeWidth": 0.8}, "encoding": {
       "x": {"field": "t", "type": "ordinal", "scale": {"domain": [0,6,12,24], "paddingInner": 0.37, "paddingOuter": 0.45}, "axis": {"title": "LPS (h)", "titleX": 100, "titleY": 3, "titleAlign": "left", "titleBaseline": "top"}},
       "xOffset": {"field": "g", "type": "nominal", "scale": {"domain": ["WT","TKO"], "paddingInner": 0.35}},
       "y": {"field": "m", "type": "quantitative", "scale": {"domain": [0, 20000]}, "axis": {"values": [0,5000,10000,15000,20000], "format": "d", "title": "Protein concentration (pg/ml)"}},
       "fill": {"field": "g", "type": "nominal", "scale": {"domain": ["WT","TKO"], "range": ["#ffffff","#9b10d4"]}, "legend": {"title": null, "symbolType": "M-1.4,-0.7H1.4V0.7H-1.4Z", "symbolSize": 16, "offset": 4}},
       "stroke": {"field": "g", "type": "nominal", "scale": {"domain": ["WT","TKO"], "range": ["#000000","#5c0085"]}, "legend": {"title": null, "symbolType": "M-1.4,-0.7H1.4V0.7H-1.4Z", "symbolSize": 16, "offset": 4}}}},
     {"data": {"name": "e2s"}, "mark": {"type": "rule", "color": "#000", "strokeWidth": 0.7}, "encoding": {"x": {"field": "t", "type": "ordinal"}, "xOffset": {"field": "g", "type": "nominal"}, "y": {"field": "m", "type": "quantitative"}, "y2": {"field": "hi"}}},
     {"data": {"name": "e2s"}, "mark": {"type": "tick", "color": "#000", "thickness": 0.7, "size": 3}, "encoding": {"x": {"field": "t", "type": "ordinal"}, "xOffset": {"field": "g", "type": "nominal"}, "y": {"field": "hi", "type": "quantitative"}}},
     {"data": {"name": "e2d"}, "mark": {"type": "point", "filled": true, "shape": "circle", "size": 5, "strokeWidth": 0.5, "opacity": 1, "stroke": "#000"}, "encoding": {"x": {"field": "t", "type": "ordinal"}, "xOffset": {"field": "g", "type": "nominal"}, "y": {"field": "v", "type": "quantitative"},
       "color": {"field": "g", "type": "nominal", "scale": {"domain": ["WT","TKO"], "range": ["#ffffff","#000000"]}, "legend": null}}},
     {"data": {"name": "e2x"}, "mark": {"type": "tick", "color": "#000", "thickness": 0.7, "size": 10}, "encoding": {"x": {"field": "t", "type": "ordinal"}, "y": {"field": "y", "type": "quantitative"}}},
     {"data": {"name": "e2x"}, "mark": {"type": "text", "baseline": "bottom", "dy": -0.3, "fontSize": 6}, "encoding": {"x": {"field": "t", "type": "ordinal"}, "y": {"field": "y", "type": "quantitative"}, "text": {"field": "s"}}}
    ]},
   {"width": 66, "height": 10, "data": {"name": "one"}, "mark": {"type": "rect", "opacity": 0}, "title": {"text": "F", "fontSize": 10, "anchor": "start", "frame": "group", "baseline": "alphabetic", "dx": 31, "offset": 10.6}},
   {"width": 87, "height": 59, "title": {"text": "IL-10", "offset": 0.8}, "data": {"name": "f1"},
    "encoding": {
     "x": {"field": "t", "type": "ordinal", "scale": {"type": "point", "domain": [0,6,12,24], "padding": 0.5}, "axis": {"title": "LPS (h)", "titleX": 92, "titleY": 3, "titleAlign": "left", "titleBaseline": "top"}},
     "y": {"field": "v", "type": "quantitative", "scale": {"domain": [0, 1500]}, "axis": {"values": [0,500,1000,1500], "format": "d", "title": "Protein concentration (pg/ml)"}}},
    "layer": [
     {"mark": {"type": "line", "strokeWidth": 0.8}, "encoding": {"stroke": {"field": "g", "type": "nominal", "scale": {"domain": ["WT","TKO"], "range": ["#000000","#b040e8"]}, "legend": {"title": null, "symbolType": "M-1.6,0H1.6M-0.45,-0.45H0.45V0.45H-0.45Z", "symbolSize": 16, "offset": 9}}}},
     {"mark": {"type": "point", "filled": true, "shape": "circle", "size": 5, "strokeWidth": 0.4, "opacity": 1}, "encoding": {
       "fill": {"field": "g", "type": "nominal", "scale": {"domain": ["WT","TKO"], "range": ["#000000","#b040e8"]}, "legend": {"title": null, "symbolType": "M-1.6,0H1.6M-0.45,-0.45H0.45V0.45H-0.45Z", "symbolSize": 16, "offset": 9}},
       "stroke": {"field": "g", "type": "nominal", "scale": {"domain": ["WT","TKO"], "range": ["#000000","#b040e8"]}, "legend": {"title": null, "symbolType": "M-1.6,0H1.6M-0.45,-0.45H0.45V0.45H-0.45Z", "symbolSize": 16, "offset": 9}}}}
    ]},
   {"width": 54, "height": 10, "data": {"name": "one"}, "mark": {"type": "rect", "opacity": 0}},
   {"width": 104, "height": 59, "title": {"text": "IL-10", "offset": -0.4, "color": "#000"},
    "layer": [
     {"data": {"name": "f2s"}, "mark": {"type": "bar", "strokeWidth": 0.8}, "encoding": {
       "x": {"field": "t", "type": "ordinal", "scale": {"domain": [0,6,12,24], "paddingInner": 0.36, "paddingOuter": 0.544, "align": 0.75}, "axis": {"title": "LPS (h)", "titleX": 110, "titleY": 3, "titleAlign": "left", "titleBaseline": "top"}},
       "xOffset": {"field": "g", "type": "nominal", "scale": {"domain": ["WT","TKO"], "paddingInner": 0.35}},
       "y": {"field": "m", "type": "quantitative", "scale": {"domain": [0, 3000]}, "axis": {"values": [0,1000,2000,3000], "format": "d", "title": "Protein concentration (pg/ml)"}},
       "fill": {"field": "g", "type": "nominal", "scale": {"domain": ["WT","TKO"], "range": ["#ffffff","#9b10d4"]}, "legend": {"title": null, "symbolType": "M-1.4,-0.7H1.4V0.7H-1.4Z", "symbolSize": 16, "offset": 5}},
       "stroke": {"field": "g", "type": "nominal", "scale": {"domain": ["WT","TKO"], "range": ["#000000","#5c0085"]}, "legend": {"title": null, "symbolType": "M-1.4,-0.7H1.4V0.7H-1.4Z", "symbolSize": 16, "offset": 5}}}},
     {"data": {"name": "f2s"}, "mark": {"type": "rule", "color": "#000", "strokeWidth": 0.7}, "encoding": {"x": {"field": "t", "type": "ordinal"}, "xOffset": {"field": "g", "type": "nominal"}, "y": {"field": "m", "type": "quantitative"}, "y2": {"field": "hi"}}},
     {"data": {"name": "f2s"}, "mark": {"type": "tick", "color": "#000", "thickness": 0.7, "size": 3}, "encoding": {"x": {"field": "t", "type": "ordinal"}, "xOffset": {"field": "g", "type": "nominal"}, "y": {"field": "hi", "type": "quantitative"}}},
     {"data": {"name": "f2d"}, "mark": {"type": "point", "filled": true, "shape": "circle", "size": 5, "strokeWidth": 0.5, "opacity": 1, "stroke": "#000"}, "encoding": {"x": {"field": "t", "type": "ordinal"}, "xOffset": {"field": "g", "type": "nominal"}, "y": {"field": "v", "type": "quantitative"},
       "color": {"field": "g", "type": "nominal", "scale": {"domain": ["WT","TKO"], "range": ["#ffffff","#000000"]}, "legend": null}}},
     {"data": {"name": "f2x"}, "mark": {"type": "tick", "color": "#000", "thickness": 0.7, "size": 10}, "encoding": {"x": {"field": "t", "type": "ordinal"}, "y": {"field": "y", "type": "quantitative"}}},
     {"data": {"name": "f2x"}, "mark": {"type": "text", "baseline": "bottom", "dy": -0.3, "fontSize": 6}, "encoding": {"x": {"field": "t", "type": "ordinal"}, "y": {"field": "y", "type": "quantitative"}, "text": {"field": "s"}}}
    ]}
  ]},
  {"bounds": "flush", "spacing": 0, "resolve": {"scale": {"fill": "independent", "stroke": "independent", "color": "independent"}}, "hconcat": [
   {"width": 43, "height": 10, "data": {"name": "one"}, "mark": {"type": "rect", "opacity": 0}, "title": {"text": "G", "fontSize": 10, "anchor": "start", "frame": "group", "baseline": "alphabetic", "dx": 2, "offset": 1.6}},
   {"width": 86, "height": 70, "title": {"text": "TNF", "offset": -4},
    "layer": [
     {"data": {"name": "g"}, "mark": {"type": "bar", "strokeWidth": 0.8}, "encoding": {
       "x": {"field": "t", "type": "nominal", "scale": {"domain": ["-","1","5"], "paddingInner": 0.41, "paddingOuter": 0.19}, "axis": {"title": ["IL-10 (ng/ml)", "LPS (6h)"], "labelExpr": "[datum.label, '+']", "labelLineHeight": 5.3, "labelPadding": 0.5, "titleX": 82, "titleY": 2, "titleAlign": "left", "titleBaseline": "top", "titleLineHeight": 5.3}},
       "xOffset": {"field": "g", "type": "nominal", "scale": {"domain": ["WT","TKO"], "paddingInner": 0.3}},
       "y": {"field": "m", "type": "quantitative", "scale": {"domain": [0, 200], "range": [70, 11]}, "axis": {"values": [0,50,100,150,200], "format": "d", "title": "Relative protein concentration (%)"}},
       "fill": {"field": "g", "type": "nominal", "scale": {"domain": ["WT","TKO"], "range": ["#ffffff","#9b10d4"]}, "legend": {"title": null, "orient": "none", "legendX": 94, "legendY": 11, "symbolType": "M-1.4,-0.7H1.4V0.7H-1.4Z", "symbolSize": 16}},
       "stroke": {"field": "g", "type": "nominal", "scale": {"domain": ["WT","TKO"], "range": ["#000000","#5c0085"]}, "legend": {"title": null, "orient": "none", "legendX": 94, "legendY": 11, "symbolType": "M-1.4,-0.7H1.4V0.7H-1.4Z", "symbolSize": 16}}}},
     {"data": {"name": "g"}, "mark": {"type": "rule", "color": "#000", "strokeWidth": 0.7}, "encoding": {"x": {"field": "t", "type": "nominal"}, "xOffset": {"field": "g", "type": "nominal"}, "y": {"field": "m", "type": "quantitative"}, "y2": {"field": "hi"}}},
     {"data": {"name": "g"}, "mark": {"type": "tick", "color": "#000", "thickness": 0.7, "size": 4}, "encoding": {"x": {"field": "t", "type": "nominal"}, "xOffset": {"field": "g", "type": "nominal"}, "y": {"field": "hi", "type": "quantitative"}}},
     {"data": {"name": "gx"}, "mark": {"type": "tick", "color": "#000", "thickness": 0.7, "size": 11}, "encoding": {"x": {"field": "t", "type": "nominal"}, "y": {"field": "y", "type": "quantitative"}}},
     {"data": {"name": "gx"}, "mark": {"type": "text", "baseline": "bottom", "dy": -0.3, "fontSize": 5}, "encoding": {"x": {"field": "t", "type": "nominal"}, "y": {"field": "y", "type": "quantitative"}, "text": {"field": "s"}}}
    ]},
   {"width": 93, "height": 10, "data": {"name": "one"}, "mark": {"type": "rect", "opacity": 0}, "title": {"text": "H", "fontSize": 10, "anchor": "start", "frame": "group", "baseline": "alphabetic", "dx": 66, "offset": 1.6}},
   {"width": 145, "height": 69,
    "layer": [
     {"data": {"name": "h"}, "mark": {"type": "rule", "strokeWidth": 0.7}, "encoding": {
       "x": {"field": "w", "type": "quantitative", "scale": {"domain": [0, 20], "nice": false}, "axis": {"values": [0,1,2,3,4,5,6,7,8,9,10,11,12,13,14,15,16,17,18,19,20], "title": "Weeks after high fat diet", "titlePadding": 1}},
       "y": {"field": "lo", "type": "quantitative", "scale": {"domain": [50, 400]}, "axis": {"values": [50,100,150,200,250,300,350,400], "format": "d", "title": "Body weight (%)"}},
       "y2": {"field": "hi"},
       "stroke": {"field": "k", "type": "nominal", "scale": {"domain": ["WT - PBS (n=4)","TKO - PBS (n=3)","TKO - anti-TNF (n=3)"], "range": ["#000000","#a52fe0","#f04848"]}, "legend": {"title": null, "orient": "none", "legendX": 5, "legendY": -2, "symbolType": "M-1.6,0H1.6M-0.45,-0.45H0.45V0.45H-0.45Z", "symbolSize": 16, "labelFontSize": 5.3, "rowPadding": 2.5}}}},
     {"data": {"name": "h"}, "mark": {"type": "tick", "thickness": 0.7, "size": 2.5, "orient": "vertical"}, "encoding": {"x": {"field": "w", "type": "quantitative"}, "y": {"field": "hi", "type": "quantitative"},
       "fill": {"field": "k", "type": "nominal", "scale": {"domain": ["WT - PBS (n=4)","TKO - PBS (n=3)","TKO - anti-TNF (n=3)"], "range": ["#000000","#a52fe0","#f04848"]}, "legend": {"title": null, "orient": "none", "legendX": 5, "legendY": -2, "symbolType": "M-1.6,0H1.6M-0.45,-0.45H0.45V0.45H-0.45Z", "symbolSize": 16, "labelFontSize": 5.3, "rowPadding": 2.5}}}},
     {"data": {"name": "h"}, "mark": {"type": "tick", "thickness": 0.7, "size": 2.5, "orient": "vertical"}, "encoding": {"x": {"field": "w", "type": "quantitative"}, "y": {"field": "lo", "type": "quantitative"},
       "fill": {"field": "k", "type": "nominal", "scale": {"domain": ["WT - PBS (n=4)","TKO - PBS (n=3)","TKO - anti-TNF (n=3)"], "range": ["#000000","#a52fe0","#f04848"]}, "legend": {"title": null, "orient": "none", "legendX": 5, "legendY": -2, "symbolType": "M-1.6,0H1.6M-0.45,-0.45H0.45V0.45H-0.45Z", "symbolSize": 16, "labelFontSize": 5.3, "rowPadding": 2.5}}}},
     {"data": {"name": "h"}, "mark": {"type": "line", "strokeWidth": 0.9}, "encoding": {"x": {"field": "w", "type": "quantitative"}, "y": {"field": "m", "type": "quantitative"},
       "stroke": {"field": "k", "type": "nominal", "scale": {"domain": ["WT - PBS (n=4)","TKO - PBS (n=3)","TKO - anti-TNF (n=3)"], "range": ["#000000","#a52fe0","#f04848"]}, "legend": {"title": null, "orient": "none", "legendX": 5, "legendY": -2, "symbolType": "M-1.6,0H1.6M-0.45,-0.45H0.45V0.45H-0.45Z", "symbolSize": 16, "labelFontSize": 5.3, "rowPadding": 2.5}}}},
     {"data": {"name": "h"}, "mark": {"type": "point", "filled": true, "shape": "square", "size": 5, "strokeWidth": 0.4, "opacity": 1}, "encoding": {"x": {"field": "w", "type": "quantitative"}, "y": {"field": "m", "type": "quantitative"},
       "fill": {"field": "k", "type": "nominal", "scale": {"domain": ["WT - PBS (n=4)","TKO - PBS (n=3)","TKO - anti-TNF (n=3)"], "range": ["#000000","#a52fe0","#f04848"]}, "legend": {"title": null, "orient": "none", "legendX": 5, "legendY": -2, "symbolType": "M-1.6,0H1.6M-0.45,-0.45H0.45V0.45H-0.45Z", "symbolSize": 16, "labelFontSize": 5.3, "rowPadding": 2.5}},
       "stroke": {"field": "k", "type": "nominal", "scale": {"domain": ["WT - PBS (n=4)","TKO - PBS (n=3)","TKO - anti-TNF (n=3)"], "range": ["#000000","#a52fe0","#f04848"]}, "legend": {"title": null, "orient": "none", "legendX": 5, "legendY": -2, "symbolType": "M-1.6,0H1.6M-0.45,-0.45H0.45V0.45H-0.45Z", "symbolSize": 16, "labelFontSize": 5.3, "rowPadding": 2.5}}}},
     {"data": {"name": "hr"}, "mark": {"type": "rule", "color": "#000", "strokeWidth": 0.6}, "encoding": {"x": {"field": "x", "type": "quantitative"}, "y": {"field": "y", "type": "quantitative"}, "y2": {"field": "y2"}}},
     {"data": {"name": "ht"}, "mark": {"type": "text", "fontSize": 5, "align": "center", "baseline": "middle"}, "encoding": {"x": {"field": "x", "type": "quantitative"}, "y": {"field": "y", "type": "quantitative"}, "text": {"field": "s"}}}
    ]}
  ]}
 ]}
]
}
